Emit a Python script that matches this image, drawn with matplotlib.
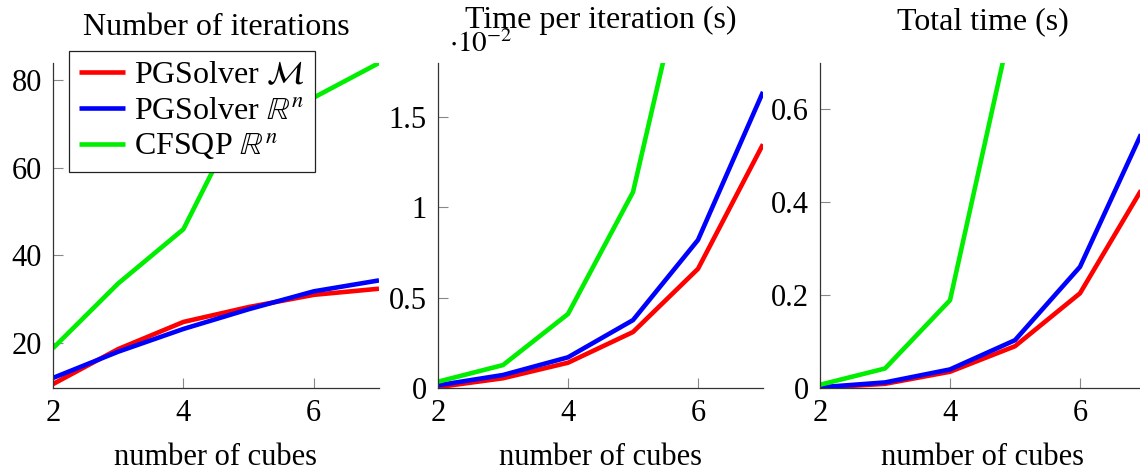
import matplotlib
matplotlib.use("Agg")
import matplotlib.pyplot as plt
import numpy as np

plt.rcParams.update({
    'font.family': 'Liberation Serif',
    'mathtext.fontset': 'stix',
    'font.size': 22,
})

cubes = [2, 3, 4, 5, 6, 7]

# number of iterations
iter_pg_m = [10.6, 18.6, 24.8, 28.2, 31.0, 32.4]
iter_pg_rn = [12.0, 18.0, 23.2, 27.7, 31.8, 34.3]
iter_cfsqp = [18.8, 33.6, 46.0, 75.6, 76.1, 84.0]

# time per iteration (s)
tpi_pg_m = [0.00005, 0.00054, 0.0014, 0.0031, 0.0066, 0.0135]
tpi_pg_rn = [0.00015, 0.00072, 0.0017, 0.00376, 0.0082, 0.0164]
tpi_cfsqp = [0.00035, 0.00127, 0.0041, 0.01085, 0.0264, 0.045]

# total time (s)
tot_pg_m = [0.0005, 0.009, 0.035, 0.09, 0.204, 0.44]
tot_pg_rn = [0.0015, 0.012, 0.040, 0.103, 0.261, 0.565]
tot_cfsqp = [0.007, 0.042, 0.189, 0.82, 2.0, 3.8]

labels = [r'PGSolver $\mathcal{M}$', r'PGSolver $\mathbb{R}^n$', r'CFSQP $\mathbb{R}^n$']
colors = ['#ff0000', '#0000ff', '#00ee00']

W, H = 1140, 473
fig = plt.figure(figsize=(W / 100, H / 100), dpi=100)


def make_ax(left, right, top, bottom):
    ax = fig.add_axes([left / W, (H - bottom) / H, (right - left) / W, (bottom - top) / H])
    for s in ['top', 'right']:
        ax.spines[s].set_visible(False)
    for s in ['left', 'bottom']:
        ax.spines[s].set_color('#333333')
        ax.spines[s].set_linewidth(0.9)
    ax.tick_params(direction='in', length=7, width=0.8, color='#888888', pad=8)
    ax.set_xticks([2, 4, 6])
    ax.set_xlim(2, 7)
    ax.set_xlabel('number of cubes', labelpad=11)
    return ax


ax1 = make_ax(53, 379, 63, 388)
ax2 = make_ax(438, 763, 63, 388)
ax3 = make_ax(820, 1145, 63, 388)

for ax, series in [(ax1, [iter_pg_m, iter_pg_rn, iter_cfsqp]),
                   (ax2, [np.array(tpi_pg_m) * 100, np.array(tpi_pg_rn) * 100, np.array(tpi_cfsqp) * 100]),
                   (ax3, [tot_pg_m, tot_pg_rn, tot_cfsqp])]:
    for ys, c, lab in zip(series, colors, labels):
        ax.plot(cubes, ys, color=c, lw=3.3, label=lab, solid_capstyle='butt')

ax1.set_ylim(9.7, 84)
ax1.set_yticks([20, 40, 60, 80])
ax1.set_title('Number of iterations', pad=20, fontsize=23)

ax2.set_ylim(0, 1.8)
ax2.set_yticks([0, 0.5, 1, 1.5])
ax2.set_yticklabels(['0', '0.5', '1', '1.5'])
ax2.set_title('Time per iteration (s)', pad=25, fontsize=23)
ax2.text(0.035, 1.034, r'$\cdot 10^{-2}$', transform=ax2.transAxes, fontsize=21,
         ha='left', va='baseline')

ax3.set_ylim(0, 0.7)
ax3.set_yticks([0, 0.2, 0.4, 0.6])
ax3.set_yticklabels(['0', '0.2', '0.4', '0.6'])
ax3.set_title('Total time (s)', pad=24.5, fontsize=23)

ax1.legend(loc='upper left', bbox_to_anchor=(69 / W, (H - 51) / H),
           bbox_transform=fig.transFigure, borderaxespad=0, fancybox=False,
           edgecolor='#222222', framealpha=1, handlelength=1.45, handletextpad=0.3,
           labelspacing=0.2, borderpad=0.3, fontsize=23)
ax1.get_legend().get_frame().set_linewidth(0.9)

fig.savefig('out.png', dpi=100)
